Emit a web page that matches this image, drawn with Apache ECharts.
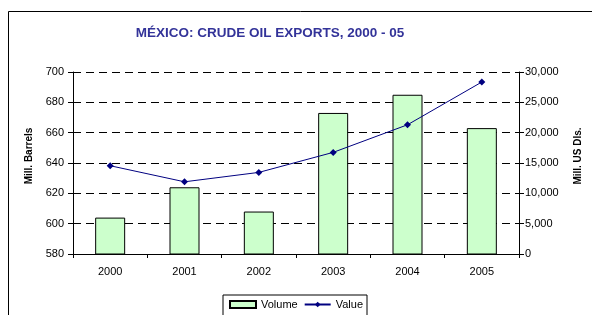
<!DOCTYPE html>
<html>
<head>
<meta charset="utf-8">
<script src="https://cdn.jsdelivr.net/npm/echarts@6/dist/echarts.min.js"></script>
<style>
  html, body { margin: 0; padding: 0; background: #fff; }
  #main { width: 592px; height: 315px; }
</style>
</head>
<body>
<div id="main"></div>
<script>
// datos
const years = ["2000", "2001", "2002", "2003", "2004", "2005"];
const volume = [604, 624, 608, 673, 685, 663]; // Mill. Barrels
const value = [14550, 11900, 13450, 16750, 21300, 28350]; // Mill. US Dls.

const font = "Liberation Sans, Arial, sans-serif";
const chart = echarts.init(document.getElementById("main"), null, { renderer: "canvas" });

chart.setOption({
  animation: false,
  textStyle: { fontFamily: font, color: "#000" },
  graphic: [
    {
      type: "rect",
      shape: { x: 8.5, y: 11.5, width: 620, height: 330 },
      style: { fill: "none", stroke: "#000", lineWidth: 1 },
      silent: true,
    },
    // nombre del eje derecho (leído de abajo hacia arriba)
    {
      type: "text",
      x: 578,
      y: 156,
      rotation: Math.PI / 2,
      silent: true,
      style: {
        text: "Mill. US Dls.",
        fill: "#000",
        font: "bold 10px " + font,
        align: "center",
        verticalAlign: "middle",
      },
    },
  ],
  title: {
    text: "MÉXICO: CRUDE OIL EXPORTS, 2000 - 05",
    left: 265,
    textAlign: "center",
    top: 21,
    textStyle: { color: "#333399", fontSize: 13.5, fontWeight: "bold", fontFamily: font },
  },
  grid: { left: 73, right: 73, top: 72, bottom: 61 },
  legend: {
    left: 223,
    top: 295,
    itemWidth: 26,
    itemHeight: 7,
    itemGap: 6,
    padding: [4, 4, 8, 6],
    borderColor: "#000",
    borderWidth: 1,
    textStyle: { fontSize: 11, color: "#000", fontFamily: font },
    data: [
      { name: "Volume", icon: "rect" },
      { name: "Value" },
    ],
  },
  xAxis: {
    type: "category",
    data: years,
    boundaryGap: true,
    axisLine: { lineStyle: { color: "#000" } },
    axisTick: { show: true, length: 4, lineStyle: { color: "#000" } },
    axisLabel: { color: "#000", fontSize: 11, margin: 12 },
  },
  yAxis: [
    {
      type: "value",
      min: 580,
      max: 700,
      interval: 20,
      name: "Mill. Barrels",
      nameLocation: "middle",
      nameGap: 38,
      nameTextStyle: { fontWeight: "bold", fontSize: 10, color: "#000", padding: [0, 0, 0, 14] },
      axisLine: { show: true, lineStyle: { color: "#000" } },
      axisTick: { show: true, length: 5, lineStyle: { color: "#000" } },
      axisLabel: { color: "#000", fontSize: 11, margin: 9 },
      splitLine: { show: true, lineStyle: { color: "#000", type: [8, 5], width: 1 } },
    },
    {
      type: "value",
      min: 0,
      max: 30000,
      interval: 5000,
      axisLine: { show: true, lineStyle: { color: "#000" } },
      axisTick: { show: true, length: 5, lineStyle: { color: "#000" } },
      axisLabel: {
        color: "#000",
        fontSize: 11,
        margin: 6,
        formatter: (v) => v.toLocaleString("en-US"),
      },
      splitLine: { show: false },
    },
  ],
  series: [
    {
      name: "Volume",
      type: "bar",
      data: volume,
      yAxisIndex: 0,
      barWidth: 30,
      itemStyle: { color: "#CCFFCC", borderColor: "#000", borderWidth: 1 },
    },
    {
      name: "Value",
      type: "line",
      data: value,
      yAxisIndex: 1,
      symbol: "diamond",
      symbolSize: 7,
      lineStyle: { color: "#000080", width: 1 },
      itemStyle: { color: "#000080" },
    },
  ],
});
</script>
</body>
</html>
